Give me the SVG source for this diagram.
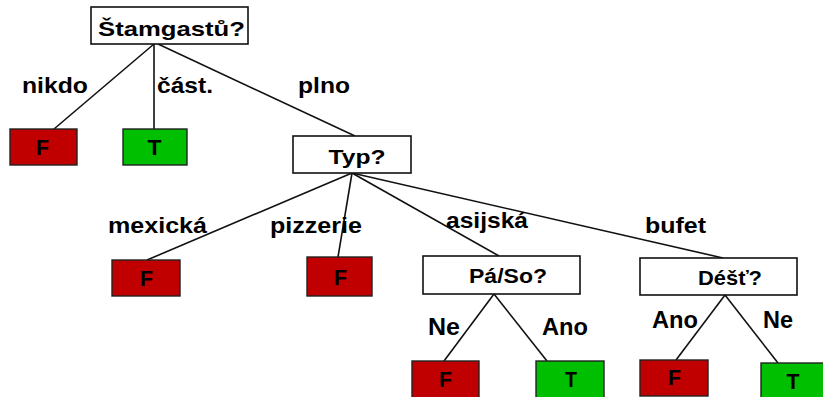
<svg xmlns="http://www.w3.org/2000/svg" width="823" height="397" viewBox="0 0 823 397">
<style>
.q{fill:#ffffff;stroke:#111;stroke-width:1.6}
.f{fill:#c00000;stroke:#222;stroke-width:1.4}
.t{fill:#00bf00;stroke:#222;stroke-width:1.4}
text{font-family:"Liberation Sans",Arial,sans-serif;font-weight:bold;fill:#000}
.n{font-size:21px;text-anchor:middle}
.l{font-size:22px}
.b{font-size:23px}
.v{font-size:22px;text-anchor:middle}
#edges line{stroke:#111;stroke-width:1.6}
</style>
<rect width="823" height="397" fill="#fff"/>
<g id="edges">
<line x1="154" y1="44" x2="54" y2="129"/>
<line x1="154" y1="44" x2="154" y2="129"/>
<line x1="158" y1="44" x2="355" y2="136"/>
<line x1="352" y1="173" x2="147" y2="260"/>
<line x1="352" y1="173" x2="338" y2="257"/>
<line x1="352" y1="173" x2="499" y2="256"/>
<line x1="352" y1="173" x2="723" y2="258"/>
<line x1="494" y1="294" x2="444" y2="361"/>
<line x1="494" y1="294" x2="547" y2="361"/>
<line x1="725" y1="295" x2="676" y2="360"/>
<line x1="725" y1="295" x2="778" y2="363"/>
</g>
<g id="labels">
<text class="l" x="22" y="93" textLength="66" lengthAdjust="spacingAndGlyphs">nikdo</text>
<text class="l" x="157" y="93" textLength="56" lengthAdjust="spacingAndGlyphs">část.</text>
<text class="l" x="298" y="93" textLength="52" lengthAdjust="spacingAndGlyphs">plno</text>
<text class="l" x="108" y="233" textLength="99" lengthAdjust="spacingAndGlyphs">mexická</text>
<text class="l" x="270" y="233" textLength="92" lengthAdjust="spacingAndGlyphs">pizzerie</text>
<text class="l" x="446" y="228" textLength="82" lengthAdjust="spacingAndGlyphs">asijská</text>
<text class="l" x="645" y="233" textLength="61" lengthAdjust="spacingAndGlyphs">bufet</text>
<text class="b" x="428" y="335" textLength="32" lengthAdjust="spacingAndGlyphs">Ne</text>
<text class="b" x="542" y="335" textLength="46" lengthAdjust="spacingAndGlyphs">Ano</text>
<text class="b" x="652" y="328" textLength="46" lengthAdjust="spacingAndGlyphs">Ano</text>
<text class="b" x="763" y="328" textLength="30" lengthAdjust="spacingAndGlyphs">Ne</text>
</g>
<g id="stamgastu">
<rect class="q" x="91" y="7" width="157" height="37"/>
<text class="n" x="171.5" y="36" textLength="147" lengthAdjust="spacingAndGlyphs">Štamgastů?</text>
</g>
<g id="f-nikdo">
<rect class="f" x="10" y="129" width="67" height="36"/>
<text class="v" x="42.5" y="155" textLength="13" lengthAdjust="spacingAndGlyphs">F</text>
</g>
<g id="t-cast">
<rect class="t" x="123" y="129" width="64" height="36"/>
<text class="v" x="154.5" y="155" textLength="14" lengthAdjust="spacingAndGlyphs">T</text>
</g>
<g id="typ">
<rect class="q" x="293" y="136" width="118" height="37"/>
<text class="n" x="357" y="164" textLength="57" lengthAdjust="spacingAndGlyphs">Typ?</text>
</g>
<g id="f-mexicka">
<rect class="f" x="112" y="260" width="68" height="36"/>
<text class="v" x="146.5" y="286" textLength="13" lengthAdjust="spacingAndGlyphs">F</text>
</g>
<g id="f-pizzerie">
<rect class="f" x="307" y="257" width="65" height="39"/>
<text class="v" x="340.5" y="285" textLength="13" lengthAdjust="spacingAndGlyphs">F</text>
</g>
<g id="paso">
<rect class="q" x="423" y="256" width="157" height="38"/>
<text class="n" x="508" y="283" textLength="78" lengthAdjust="spacingAndGlyphs">Pá/So?</text>
</g>
<g id="dest">
<rect class="q" x="640" y="258" width="157" height="37"/>
<text class="n" x="730" y="285" textLength="64" lengthAdjust="spacingAndGlyphs">Déšť?</text>
</g>
<g id="f-ne">
<rect class="f" x="412" y="361" width="67" height="37"/>
<text class="v" x="445.5" y="387" textLength="13" lengthAdjust="spacingAndGlyphs">F</text>
</g>
<g id="t-ano">
<rect class="t" x="536" y="361" width="68" height="37"/>
<text class="v" x="571" y="387" textLength="12" lengthAdjust="spacingAndGlyphs">T</text>
</g>
<g id="f-ano">
<rect class="f" x="640" y="360" width="68" height="36"/>
<text class="v" x="674.5" y="385" textLength="13" lengthAdjust="spacingAndGlyphs">F</text>
</g>
<g id="t-ne">
<rect class="t" x="761" y="363" width="64" height="37"/>
<text class="v" x="793" y="389" textLength="13" lengthAdjust="spacingAndGlyphs">T</text>
</g>
</svg>
